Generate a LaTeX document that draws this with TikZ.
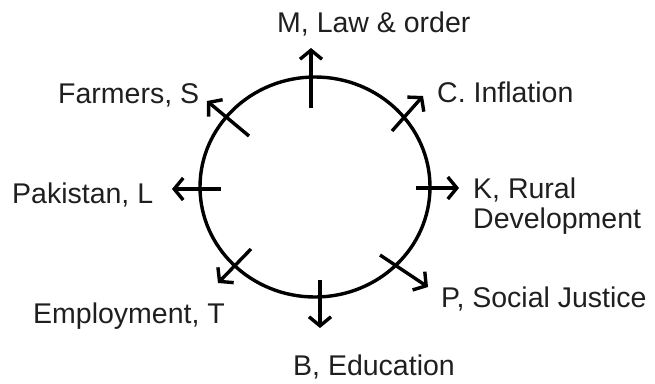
\documentclass[tikz,border=0pt]{standalone}
\usepackage{fontspec}
\setmainfont{Liberation Sans}
\usetikzlibrary{arrows.meta}
\begin{document}
\begin{tikzpicture}[x=1pt,y=-1pt,
  lbl/.style={anchor=base west,inner sep=0pt,text=black!88,font=\fontsize{28.5}{30}\selectfont},
  spoke/.style={line width=3.4pt,-{Straight Barb[length=9pt,width=22pt,line width=3.4pt]}}]
\useasboundingbox (0,0) rectangle (655,383);
\draw[line width=3.4pt] (315,187) ellipse [x radius=115, y radius=110];
% labels
\node[lbl] (m) at (277,32) {M, Law \& order};
\node[lbl] (c) at (437,102) {C. Inflation};
\node[lbl,align=left] (k) at (473,228) {K, Rural\\Development};
\node[lbl] (p) at (441,307) {P, Social Justice};
\node[lbl] (b) at (293,375) {B, Education};
\node[lbl] (t) at (33,323) {Employment, T};
\node[lbl] (l) at (12,203) {Pakistan, L};
\node[lbl] (s) at (58,103) {Farmers, S};
% spokes
\coordinate (mi) at (311,108); \coordinate (mo) at (311,48);
\coordinate (ci) at (392,131); \coordinate (co) at (423,96);
\coordinate (ki) at (416,188); \coordinate (ko) at (459,188);
\coordinate (pi) at (380,255); \coordinate (po) at (428,287);
\coordinate (bi) at (320,280); \coordinate (bo) at (320,328);
\coordinate (ti) at (251,249); \coordinate (to) at (218,283);
\coordinate (li) at (221,189); \coordinate (lo) at (172,189);
\coordinate (si) at (249,136); \coordinate (so) at (207,101);
\foreach \a in {m,c,k,p,b,t,l,s} \draw[spoke] (\a i) -- (\a o);
\end{tikzpicture}
\end{document}
